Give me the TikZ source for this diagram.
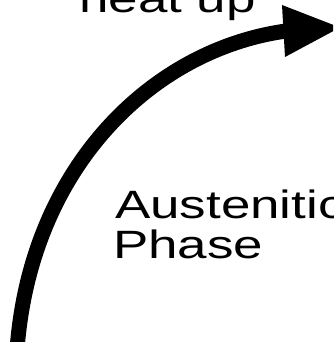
\documentclass[tikz,border=0pt]{standalone}
\usepackage{fontspec}
\setmainfont{Liberation Sans}
\begin{document}
\begin{tikzpicture}[x=1pt,y=-1pt,
  lbl/.style={inner sep=0pt,anchor=base west,font=\fontsize{39.5}{40}\selectfont},
  shaft/.style={line width=15pt,black},
  head/.style={fill=black}]
\useasboundingbox (0,0) rectangle (333,342);
\clip (0,0) rectangle (333,342);
\coordinate (start) at (17,350);
\coordinate (base) at (286,31);
\coordinate (htop) at (282,5);
\coordinate (hbot) at (285,57);
\coordinate (tip) at (340,27.5);
\draw[shaft] (start) .. controls (30,170) and (150,50) .. (base);
\fill[head] (htop) -- (tip) -- (hbot) -- cycle;
\node[lbl] (heat) at (79,13) {\scalebox{1.34}[1]{heat up}};
\node[lbl] (aust) at (115,218) {\scalebox{1.34}[1]{Austenitic}};
\node[lbl] (phase) at (113,258) {\scalebox{1.34}[1]{Phase}};
\end{tikzpicture}
\end{document}
